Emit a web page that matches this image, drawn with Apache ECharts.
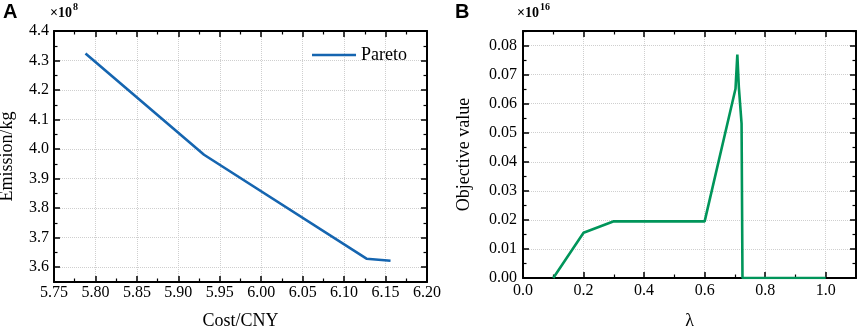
<!DOCTYPE html>
<html>
<head>
<meta charset="utf-8">
<script src="https://cdn.jsdelivr.net/npm/echarts@6/dist/echarts.min.js"></script>
<style>
html,body{margin:0;padding:0;background:#fff;}
#c{width:858px;height:330px;}
</style>
</head>
<body>
<div id="c"></div>
<script>
// Panel A: Pareto front
const costA = [5.788, 5.931, 6.127, 6.156];
const emissionA = [4.324, 3.981, 3.629, 3.622];
// Panel B: objective value vs lambda
const lambdaB = [0.1, 0.2, 0.3, 0.6, 0.702, 0.708, 0.713, 0.722, 0.725, 1.0];
const objB = [0, 0.0156, 0.0195, 0.0195, 0.0651, 0.0769, 0.0657, 0.0531, 0, 0];
// Tick labels
const xTicksA = ['5.75', '5.80', '5.85', '5.90', '5.95', '6.00', '6.05', '6.10', '6.15', '6.20'];
const yTicksA = ['3.6', '3.7', '3.8', '3.9', '4.0', '4.1', '4.2', '4.3', '4.4'];
const xTicksB = ['0.0', '0.2', '0.4', '0.6', '0.8', '1.0'];
const yTicksB = ['0.00', '0.01', '0.02', '0.03', '0.04', '0.05', '0.06', '0.07', '0.08'];

const serif = 'Liberation Serif';
const chart = echarts.init(document.getElementById('c'));

function mk(arrX, arrY) { return arrX.map((x, i) => [x, arrY[i]]); }

function axis(o) {
  const a = {
    type: 'value', gridIndex: o.gridIndex, min: o.min, max: o.max,
    axisLine: {show: true, onZero: false, lineStyle: {color: '#000', width: 2}},
    axisTick: {show: true, inside: true, length: 6, lineStyle: {color: '#000', width: 1.5}},
    minorTick: {show: true, splitNumber: 2, length: 3.5, lineStyle: {color: '#000', width: 1.2}},
    splitLine: {show: !o.mirror, lineStyle: {color: '#cfcfcf', width: 1, type: 'dotted'}},
    axisLabel: {show: false}
  };
  if (o.interval !== undefined) a.interval = o.interval;
  if (o.splitNumber !== undefined) a.splitNumber = o.splitNumber;
  if (o.position) a.position = o.position;
  if (!o.mirror) {
    a.name = o.name; a.nameLocation = 'middle'; a.nameGap = o.nameGap;
    a.nameTextStyle = {fontFamily: serif, fontSize: 18, color: '#000'};
  }
  return a;
}

const xAcfg = {gridIndex: 0, min: 5.75, max: 6.2, interval: 0.05, name: 'Cost/CNY', nameGap: 30};
const yAcfg = {gridIndex: 0, min: 3.55, max: 4.4, splitNumber: 8, name: 'Emission/kg', nameGap: 38};
const xBcfg = {gridIndex: 1, min: 0, max: 1.1, interval: 0.2, name: 'λ', nameGap: 34};
const yBcfg = {gridIndex: 1, min: 0, max: 0.085, interval: 0.01, name: 'Objective value', nameGap: 50};

const option = {
  animation: false,
  backgroundColor: '#fff',
  grid: [
    {left: 54, top: 31, right: 431, bottom: 48, containLabel: false, outerBoundsMode: 'none'},
    {left: 523, top: 31, right: 2, bottom: 52, containLabel: false, outerBoundsMode: 'none'}
  ],
  xAxis: [
    axis(xAcfg), axis(Object.assign({}, xAcfg, {mirror: true, position: 'top'})),
    axis(xBcfg), axis(Object.assign({}, xBcfg, {mirror: true, position: 'top'}))
  ],
  yAxis: [
    axis(yAcfg), axis(Object.assign({}, yAcfg, {mirror: true, position: 'right'})),
    axis(yBcfg), axis(Object.assign({}, yBcfg, {mirror: true, position: 'right'}))
  ],
  legend: {
    data: [{name: 'Pareto', icon: 'rect'}], right: 446, top: 41,
    itemWidth: 44, itemHeight: 2.5, itemGap: 4,
    textStyle: {fontFamily: serif, fontSize: 18, color: '#000'}
  },
  series: [
    {
      name: 'Pareto', type: 'line', xAxisIndex: 0, yAxisIndex: 0,
      data: mk(costA, emissionA), symbol: 'none',
      lineStyle: {color: '#1565b0', width: 2.6}, itemStyle: {color: '#1565b0'}
    },
    {
      name: 'Objective', type: 'line', xAxisIndex: 2, yAxisIndex: 2,
      data: mk(lambdaB, objB), symbol: 'none',
      lineStyle: {color: '#00955a', width: 2.6}, itemStyle: {color: '#00955a'}
    }
  ]
};
chart.setOption(option);

// Tick labels placed through the library's own axis scales
const g = [
  {type: 'text', left: 3, top: 2, style: {text: 'A', fontSize: 20, fontWeight: 'bold', fontFamily: 'Liberation Sans', fill: '#000'}},
  {type: 'text', left: 455, top: 2, style: {text: 'B', fontSize: 20, fontWeight: 'bold', fontFamily: 'Liberation Sans', fill: '#000'}},
  {type: 'text', left: 50, top: 6, style: {text: '×10', fontSize: 14, fontWeight: 'bold', fontFamily: serif, fill: '#000'}},
  {type: 'text', left: 73, top: 2, style: {text: '8', fontSize: 10, fontWeight: 'bold', fontFamily: serif, fill: '#000'}},
  {type: 'text', left: 517, top: 6, style: {text: '×10', fontSize: 14, fontWeight: 'bold', fontFamily: serif, fill: '#000'}},
  {type: 'text', left: 540, top: 2, style: {text: '16', fontSize: 10, fontWeight: 'bold', fontFamily: serif, fill: '#000'}}
];
function px(which, idx, v) {
  const f = {}; f[which] = idx;
  return chart.convertToPixel(f, v);
}
function addX(ticks, xi, yi, yMin, margin) {
  const yPix = px('yAxisIndex', yi, yMin) + margin;
  ticks.forEach(t => {
    g.push({type: 'text', x: px('xAxisIndex', xi, parseFloat(t)), y: yPix,
      style: {text: t, fontSize: 16, fontFamily: serif, fill: '#000', align: 'center', verticalAlign: 'top', textAlign: 'center', textVerticalAlign: 'top'}});
  });
}
function addY(ticks, xi, yi, xMin, margin) {
  const xPix = px('xAxisIndex', xi, xMin) - margin;
  ticks.forEach(t => {
    g.push({type: 'text', x: xPix, y: px('yAxisIndex', yi, parseFloat(t)),
      style: {text: t, fontSize: 16, fontFamily: serif, fill: '#000', align: 'right', verticalAlign: 'middle', textAlign: 'right', textVerticalAlign: 'middle'}});
  });
}
addX(xTicksA, 0, 0, 3.55, 3);
addY(yTicksA, 0, 0, 5.75, 5);
addX(xTicksB, 2, 2, 0, 5);
addY(yTicksB, 2, 2, 0, 6);
chart.setOption({graphic: g});
</script>
</body>
</html>
